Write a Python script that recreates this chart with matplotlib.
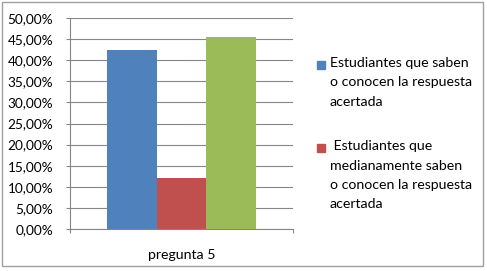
import matplotlib
matplotlib.use("Agg")
import matplotlib.pyplot as plt
from matplotlib.patches import Rectangle

# Datos
categoria = "pregunta 5"
series = [
    "Estudiantes que saben\no conocen la respuesta\nacertada",
    " Estudiantes que\nmedianamente saben\no conocen la respuesta\nacertada",
    "Estudiantes que no saben",
]
valores = [0.424, 0.122, 0.455]
colores = ["#4F81BD", "#C0504D", "#9BBB59"]
yticks = [0, 0.05, 0.10, 0.15, 0.20, 0.25, 0.30, 0.35, 0.40, 0.45, 0.50]

plt.rcParams['font.family'] = ['Lato', 'DejaVu Sans']

fig = plt.figure(figsize=(4.87, 2.71), dpi=100)
W, H = 487, 271
ax = fig.add_axes([70 / W, 42 / H, 223 / W, 211 / H])

ancho = 0.222
for i, (v, c) in enumerate(zip(valores, colores)):
    ax.bar((i - 1) * ancho, v, width=ancho, color=c, zorder=3)

ax.set_xlim(-0.5, 0.5)
ax.set_ylim(0, 0.5)
ax.set_yticks(yticks)
ax.set_yticklabels([f"{t*100:.2f}%".replace(".", ",") for t in yticks], fontsize=9.8)
ax.set_xticks([-0.5, 0.5])
ax.set_xticklabels(["", ""])
ax.tick_params(axis='y', length=3, width=0.8, color="#868686", pad=9)
ax.tick_params(axis='x', length=3, width=0.8, color="#868686")
ax.text(0, -0.062, categoria, ha='center', va='center', fontsize=10.2,
        transform=ax.transData)
ax.grid(axis='y', color="#868686", linewidth=0.8, zorder=0)
for s in ['top', 'right']:
    ax.spines[s].set_visible(False)
ax.spines['left'].set_color("#868686")
ax.spines['bottom'].set_color("#868686")

# Leyenda (solo se ven dos entradas)
pos_y = [65, 148]
for lab, c, y in zip(series[:2], colores[:2], pos_y):
    fig.patches.append(Rectangle((317 / W, 1 - (y + 4) / H), 8 / W, 8 / H,
                                 color=c, transform=fig.transFigure))
    fig.text(330 / W, 1 - (y - 8) / H, lab,
             ha='left', va='top', fontsize=10.2, linespacing=1.75)

# Borde del gráfico
fig.patches.append(Rectangle((2 / W, 5 / H), 481 / W, 264 / H, fill=False,
                             edgecolor="#a0a0a0", linewidth=1,
                             transform=fig.transFigure))

plt.savefig("out.png", dpi=100)
